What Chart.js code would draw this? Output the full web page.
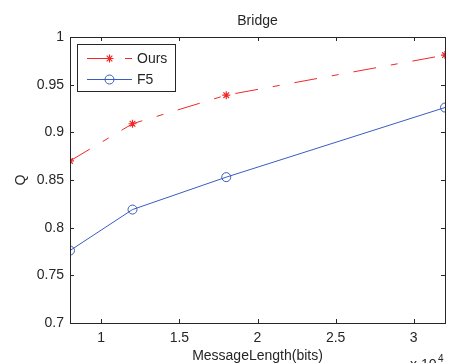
<!DOCTYPE html>
<html>
<head>
<meta charset="utf-8">
<script src="https://cdn.jsdelivr.net/npm/chart.js@4"></script>
<style>
html,body{margin:0;padding:0;background:#fff;}
#wrap{width:461px;height:363px;position:relative;}
</style>
</head>
<body>
<div id="wrap"><canvas id="c" width="461" height="363"></canvas></div>
<script>
// Data (x in units of 10^4 bits)
const messageLength = [0.8, 1.2, 1.8, 3.2];
const oursQ = [0.870, 0.909, 0.939, 0.981];
const f5Q = [0.776, 0.819, 0.853, 0.926];
const xTickValues = [1, 1.5, 2, 2.5, 3];
const yTickValues = [0.7, 0.75, 0.8, 0.85, 0.9, 0.95, 1];
const seriesLabels = ['Ours', 'F5'];

const FONT = "'Liberation Sans', Arial, sans-serif";
const TXT = '#262626';
const RED = '#f02828';
const BLUE = '#3a5cc0';

const matlabPlugin = {
  id: 'matlab',
  afterDraw(chart) {
    const ctx = chart.ctx;
    const a = chart.chartArea;
    const xs = chart.scales.x, ys = chart.scales.y;
    ctx.save();
    // box
    ctx.strokeStyle = '#262626';
    ctx.lineWidth = 1;
    ctx.strokeRect(Math.round(a.left) + 0.5, Math.round(a.top) + 0.5, Math.round(a.right - a.left), Math.round(a.bottom - a.top));
    // inward ticks
    const tl = 4;
    ctx.beginPath();
    xTickValues.forEach(v => {
      const px = Math.round(xs.getPixelForValue(v)) + 0.5;
      ctx.moveTo(px, a.bottom); ctx.lineTo(px, a.bottom - tl);
      ctx.moveTo(px, a.top); ctx.lineTo(px, a.top + tl);
    });
    yTickValues.forEach(v => {
      const py = Math.round(ys.getPixelForValue(v)) + 0.5;
      ctx.moveTo(a.left, py); ctx.lineTo(a.left + tl, py);
      ctx.moveTo(a.right, py); ctx.lineTo(a.right - tl, py);
    });
    ctx.stroke();

    // title
    ctx.fillStyle = TXT;
    ctx.font = '14px ' + FONT;
    ctx.textAlign = 'center';
    ctx.textBaseline = 'alphabetic';
    ctx.fillText('Bridge', (a.left + a.right) / 2, 25);
    // x label
    ctx.fillText('MessageLength(bits)', (a.left + a.right) / 2, 360);
    // y label
    ctx.save();
    ctx.translate(25, (a.top + a.bottom) / 2);
    ctx.rotate(-Math.PI / 2);
    ctx.fillText('Q', 0, 0);
    ctx.restore();
    // x 10^4
    ctx.textAlign = 'left';
    ctx.fillText('x 10', 410, 369);
    ctx.font = '10px ' + FONT;
    ctx.fillText('4', 438, 362);

    // legend
    const lx = 77.5, ly = 44.5, lw = 98, lh = 47;
    ctx.fillStyle = '#fff';
    ctx.fillRect(lx, ly, lw, lh);
    ctx.strokeStyle = '#262626';
    ctx.strokeRect(lx, ly, lw, lh);
    const rows = [58, 79];
    chart.data.datasets.forEach((ds, i) => {
      const y = rows[i] + 0.5;
      ctx.strokeStyle = ds.borderColor;
      ctx.lineWidth = 1;
      ctx.setLineDash(ds.borderDash || []);
      ctx.beginPath(); ctx.moveTo(87, y); ctx.lineTo(132, y); ctx.stroke();
      ctx.setLineDash([]);
      ctx.fillStyle = 'rgba(0,0,0,0)';
      ctx.lineWidth = ds.pointBorderWidth;
      Chart.helpers.drawPoint(ctx, {
        pointStyle: ds.pointStyle, radius: ds.pointRadius, borderWidth: ds.pointBorderWidth, rotation: 0
      }, 109.5, y);
      ctx.fillStyle = TXT;
      ctx.font = '14px ' + FONT;
      ctx.textAlign = 'left';
      ctx.textBaseline = 'middle';
      ctx.fillText(ds.label, 137, y + 1);
    });
    ctx.restore();
  }
};

new Chart(document.getElementById('c'), {
  type: 'line',
  data: {
    datasets: [
      {
        label: seriesLabels[0],
        data: messageLength.map((x, i) => ({x, y: oursQ[i]})),
        borderColor: RED, backgroundColor: 'transparent',
        borderWidth: 1, borderDash: [23, 15, 7, 15],
        pointStyle: 'star', pointRadius: 4, pointBorderColor: RED, pointBorderWidth: 1.2,
        fill: false, tension: 0
      },
      {
        label: seriesLabels[1],
        data: messageLength.map((x, i) => ({x, y: f5Q[i]})),
        borderColor: BLUE, backgroundColor: 'transparent',
        borderWidth: 1,
        pointStyle: 'circle', pointRadius: 4.5, pointBorderColor: BLUE, pointBackgroundColor: 'transparent', pointBorderWidth: 1,
        fill: false, tension: 0
      }
    ]
  },
  options: {
    responsive: false,
    animation: false,
    devicePixelRatio: 1,
    layout: { padding: { top: 37, right: 16, left: 0, bottom: 0 } },
    plugins: { legend: { display: false }, title: { display: false }, tooltip: { enabled: false } },
    scales: {
      x: {
        type: 'linear', min: 0.8, max: 3.2,
        afterBuildTicks: s => { s.ticks = xTickValues.map(v => ({value: v})); },
        afterFit: s => { s.height = 40; },
        grid: { display: false, drawTicks: false },
        border: { display: false },
        ticks: { color: TXT, font: { family: FONT, size: 14 }, padding: 7, maxRotation: 0,
          callback: v => String(+v.toFixed(2)) }
      },
      y: {
        type: 'linear', min: 0.7, max: 1,
        afterBuildTicks: s => { s.ticks = yTickValues.map(v => ({value: v})); },
        afterFit: s => { s.width = 70; },
        grid: { display: false, drawTicks: false },
        border: { display: false },
        ticks: { color: TXT, font: { family: FONT, size: 14 }, padding: 6,
          callback: v => String(+v.toFixed(2)) }
      }
    }
  },
  plugins: [matlabPlugin]
});
</script>
</body>
</html>
